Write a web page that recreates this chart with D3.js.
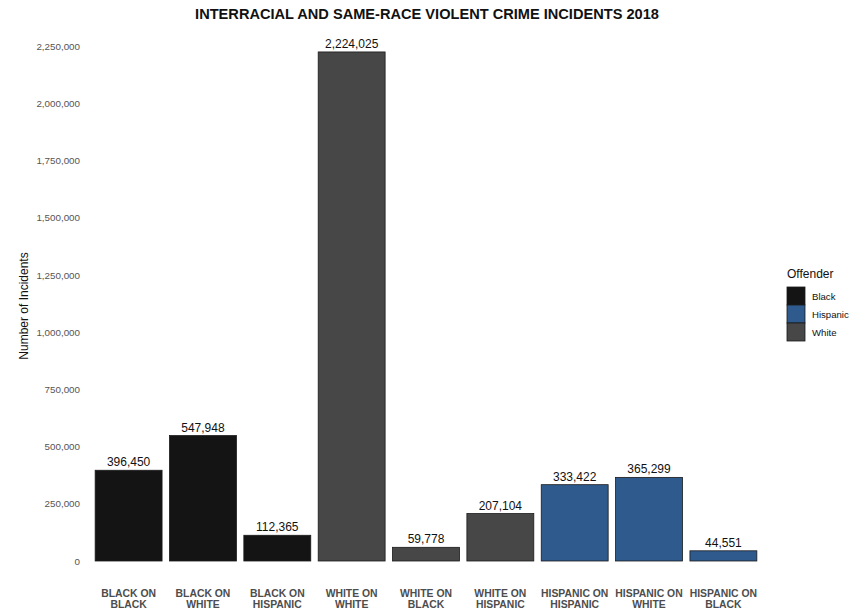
<!DOCTYPE html>
<html>
<head>
<meta charset="utf-8">
<script src="https://cdn.jsdelivr.net/npm/d3@7"></script>
<style>
  body { margin: 0; background: #fff; }
  svg { display: block; font-family: "Liberation Sans", Arial, sans-serif; }
</style>
</head>
<body>
<svg id="chart" width="860" height="611"></svg>
<script>
// Incident pairs (offender on victim), 2018
const categories = [
  "BLACK ON BLACK", "BLACK ON WHITE", "BLACK ON HISPANIC",
  "WHITE ON WHITE", "WHITE ON BLACK", "WHITE ON HISPANIC",
  "HISPANIC ON HISPANIC", "HISPANIC ON WHITE", "HISPANIC ON BLACK"
];
const incidents = [396450, 547948, 112365, 2224025, 59778, 207104, 333422, 365299, 44551];
const offenders = ["Black", "Black", "Black", "White", "White", "White", "Hispanic", "Hispanic", "Hispanic"];
const legendOrder = ["Black", "Hispanic", "White"];
const yTicks = [0, 250000, 500000, 750000, 1000000, 1250000, 1500000, 1750000, 2000000, 2250000];

const svg = d3.select("#chart");
const fmt = d3.format(",");

const x = d3.scaleBand()
  .domain(categories)
  .range([84, 768])
  .paddingInner(0.1)
  .paddingOuter(0.15);

const y = d3.scaleLinear()
  .domain([0, 2250000])
  .range([561, 46]);

const color = d3.scaleOrdinal()
  .domain(legendOrder)
  .range(["#141414", "#2e5a8e", "#474747"]);

// Title
svg.append("text")
  .attr("x", 427).attr("y", 19)
  .attr("text-anchor", "middle")
  .attr("font-size", 14.6).attr("font-weight", "bold")
  .attr("fill", "#111")
  .text("INTERRACIAL AND SAME-RACE VIOLENT CRIME INCIDENTS 2018");

// Y axis (no line, no ticks)
const yAxis = svg.append("g")
  .attr("transform", "translate(80,0)")
  .call(d3.axisLeft(y).tickValues(yTicks).tickFormat(fmt).tickSize(0).tickPadding(0));
yAxis.select(".domain").remove();
yAxis.selectAll("text")
  .attr("font-size", 9.8)
  .attr("fill", "#555")
  .attr("font-family", "Liberation Sans, Arial, sans-serif");

svg.append("text")
  .attr("transform", "translate(28,306) rotate(-90)")
  .attr("text-anchor", "middle")
  .attr("font-size", 12)
  .attr("fill", "#111")
  .text("Number of Incidents");

// Bars
svg.append("g").selectAll("rect")
  .data(categories)
  .join("rect")
  .attr("x", d => x(d))
  .attr("y", (d, i) => y(incidents[i]))
  .attr("width", x.bandwidth())
  .attr("height", (d, i) => y(0) - y(incidents[i]))
  .attr("fill", (d, i) => color(offenders[i]))
  .attr("stroke", "#1a1a1a")
  .attr("stroke-width", 0.8);

// Value labels
svg.append("g").selectAll("text")
  .data(categories)
  .join("text")
  .attr("x", d => x(d) + x.bandwidth() / 2)
  .attr("y", (d, i) => y(incidents[i]) - 4)
  .attr("text-anchor", "middle")
  .attr("font-size", 12)
  .attr("fill", "#111")
  .text((d, i) => fmt(incidents[i]));

// X category labels, two lines each
const xl = svg.append("g").selectAll("text")
  .data(categories)
  .join("text")
  .attr("x", d => x(d) + x.bandwidth() / 2)
  .attr("y", 596.5)
  .attr("text-anchor", "middle")
  .attr("font-size", 10.4)
  .attr("font-weight", "bold")
  .attr("fill", "#4d4d4d");
xl.each(function(d) {
  const parts = d.split(" ON ");
  const t = d3.select(this);
  t.append("tspan").attr("x", x(d) + x.bandwidth() / 2).attr("dy", 0).text(parts[0] + " ON");
  t.append("tspan").attr("x", x(d) + x.bandwidth() / 2).attr("dy", 11).text(parts[1]);
});

// Legend
const lg = svg.append("g").attr("transform", "translate(787,0)");
lg.append("text")
  .attr("x", 0).attr("y", 278)
  .attr("font-size", 12)
  .attr("fill", "#111")
  .text("Offender");
lg.selectAll("rect")
  .data(legendOrder)
  .join("rect")
  .attr("x", 0).attr("y", (d, i) => 287 + i * 18)
  .attr("width", 18).attr("height", 18)
  .attr("fill", d => color(d))
  .attr("stroke", "#1a1a1a")
  .attr("stroke-width", 0.8);
lg.selectAll("text.lab")
  .data(legendOrder)
  .join("text")
  .attr("class", "lab")
  .attr("x", 25).attr("y", (d, i) => 299.5 + i * 18)
  .attr("font-size", 9.6)
  .attr("fill", "#111")
  .text(d => d);
</script>
</body>
</html>
